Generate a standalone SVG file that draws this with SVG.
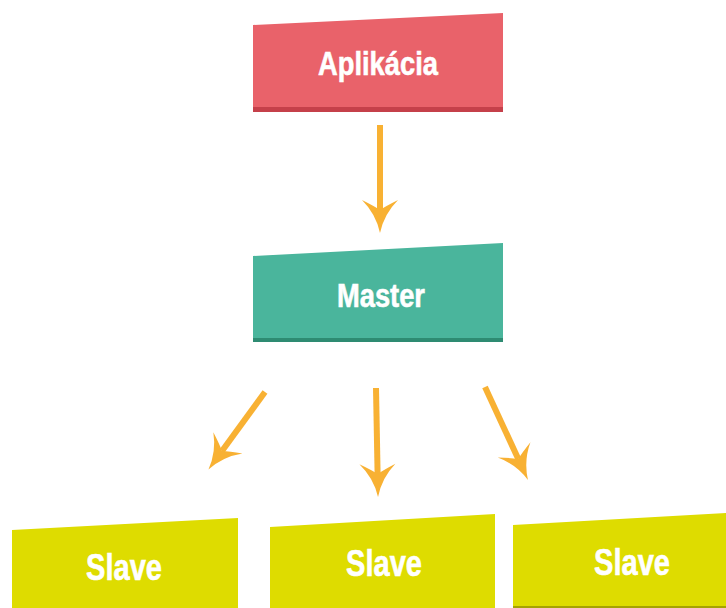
<svg xmlns="http://www.w3.org/2000/svg" width="726" height="608" viewBox="0 0 726 608">
<style>
.lbl{font-family:"Liberation Sans",Arial,sans-serif;font-weight:bold;fill:#ffffff;stroke:#ffffff;stroke-width:0.6;text-anchor:middle}
.app{fill:#E9626A}.appb{fill:#C5404A}
.mst{fill:#4AB59C}.mstb{fill:#2E8B72}
.slv{fill:#DEDC00}.slvb{fill:#A6A300}
.con{fill:none;stroke:#F8B133;stroke-width:6;marker-end:url(#ah)}
</style>
<defs>
<marker id="ah" markerUnits="userSpaceOnUse" orient="auto" refX="0" refY="0" markerWidth="60" markerHeight="60" viewBox="-30 -30 60 60" overflow="visible">
<path d="M23,0 Q4,-4 -10,-18 Q-4,-6 0,0 Q-4,6 -10,18 Q4,4 23,0 Z" fill="#F8B133"/>
</marker>
</defs>
<rect width="726" height="608" fill="#ffffff"/>
<g id="aplikacia">
<polygon class="app" points="253,25 503,13 503,112 253,112"/>
<rect class="appb" x="253" y="107" width="250" height="5"/>
<text class="lbl" x="378" y="75" font-size="34" textLength="120" lengthAdjust="spacingAndGlyphs">Aplikácia</text>
</g>
<g id="master">
<polygon class="mst" points="253,256 503,243 503,342 253,342"/>
<rect class="mstb" x="253" y="338" width="250" height="4"/>
<text class="lbl" x="381" y="307" font-size="33" textLength="88" lengthAdjust="spacingAndGlyphs">Master</text>
</g>
<g id="slave1">
<polygon class="slv" points="12,530 238,518 238,608 12,608"/>
<text class="lbl" x="124" y="580" font-size="36" textLength="76" lengthAdjust="spacingAndGlyphs">Slave</text>
</g>
<g id="slave2">
<polygon class="slv" points="270,527 495,514 495,608 270,608"/>
<text class="lbl" x="384" y="576" font-size="36" textLength="76" lengthAdjust="spacingAndGlyphs">Slave</text>
</g>
<g id="slave3">
<polygon class="slv" points="513,525 726,513 726,608 513,608"/>
<rect class="slvb" x="513" y="606" width="213" height="2"/>
<text class="lbl" x="632" y="575" font-size="36" textLength="76" lengthAdjust="spacingAndGlyphs">Slave</text>
</g>
<g id="connectors">
<path class="con" d="M380,125 L380,210"/>
<path class="con" d="M265,392 L222,451"/>
<path class="con" d="M376,388 L377.6,474"/>
<path class="con" d="M485,387 L518.3,459"/>
</g>
</svg>
